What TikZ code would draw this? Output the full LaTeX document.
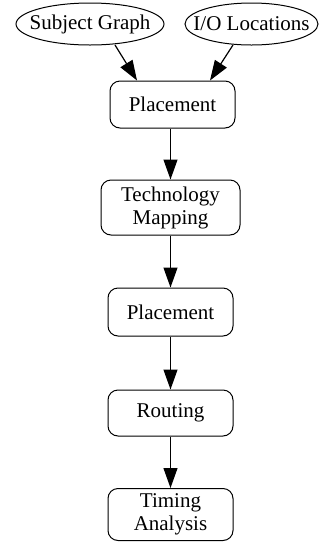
\documentclass[tikz,border=0pt]{standalone}
\usepackage{fontspec}
\setmainfont{Liberation Serif}
\usetikzlibrary{arrows.meta,shapes.geometric}
\begin{document}
\begin{tikzpicture}[x=1pt,y=-1pt,
  every node/.style={font=\fontsize{21}{23}\selectfont, inner sep=0pt, align=center},
  stepbox/.style={draw, line width=1pt, rounded corners=10pt, minimum width=125pt, minimum height=47pt},
  oval/.style={draw, ellipse, line width=1pt},
  conn/.style={draw, line width=1.2pt, -{Triangle[length=20pt,width=14pt]}}]
\useasboundingbox (0,0) rectangle (320,542);
\node[oval, minimum width=148pt, minimum height=42pt] (sg) at (90,24) {\makebox[0pt]{Subject Graph}};
\node[oval, minimum width=133pt, minimum height=42pt] (io) at (251.5,24) {\makebox[0pt]{I/O Locations}};
\node[stepbox] (p1) at (172.5,104.5) {Placement};
\node[stepbox, minimum width=139pt, minimum height=55pt] (tm) at (170.5,207.5) {Technology\\Mapping};
\node[stepbox, minimum height=48pt] (p2) at (170.5,312) {Placement};
\node[stepbox, minimum height=46pt] (rt) at (170.5,413) {Routing};
\node[stepbox, minimum height=52pt] (ta) at (170.5,514.5) {Timing\\Analysis};
\draw[conn] (115,45) -- (p1.north -| 137,0);
\draw[conn] (233,45) -- (p1.north -| 210,0);
\draw[conn] (p1.south -| tm.north) -- (tm.north);
\draw[conn] (tm) -- (p2);
\draw[conn] (p2) -- (rt);
\draw[conn] (rt) -- (ta);
\end{tikzpicture}
\end{document}
